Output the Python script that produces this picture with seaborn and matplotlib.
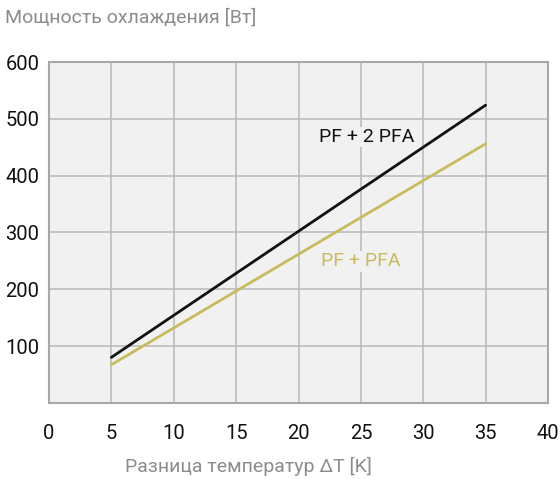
import matplotlib
matplotlib.use("Agg")
import matplotlib.pyplot as plt
import seaborn as sns
import pandas as pd

# data
delta_t = [5, 35]
power_pf_2pfa = [80, 524]
power_pf_pfa = [67, 456]
x_ticks = [0, 5, 10, 15, 20, 25, 30, 35, 40]
y_ticks = [100, 200, 300, 400, 500, 600]

df = pd.DataFrame({
    "dt": delta_t * 2,
    "power": power_pf_2pfa + power_pf_pfa,
    "series": ["PF + 2 PFA"] * 2 + ["PF + PFA"] * 2,
})

sns.set_theme(style="white")
plt.rcParams["font.family"] = ["Roboto", "DejaVu Sans"]

colors = {"PF + 2 PFA": "#111111", "PF + PFA": "#c8bb5b"}
grey = "#8c8c8c"

fig = plt.figure(figsize=(5.6, 4.79), dpi=100)
ax = fig.add_axes([49 / 560, 1 - 402.8 / 479, 499 / 560, 340.8 / 479])
ax.set_facecolor("#f1f1f1")

sns.lineplot(data=df, x="dt", y="power", hue="series", palette=colors,
             linewidth=2, legend=False, ax=ax)

ax.set_xlim(0, 40)
ax.set_ylim(0, 600)
ax.set_xticks(x_ticks)
ax.set_yticks(y_ticks)
ax.grid(True, color="#b8b8b8", linewidth=1.1)
ax.set_axisbelow(True)
for s in ax.spines.values():
    s.set_color("#a8a8a8")
    s.set_linewidth(1.5)
ax.tick_params(axis="both", length=0, labelsize=14.5, colors="#111111")
ax.tick_params(axis="x", pad=15.5)
ax.tick_params(axis="y", pad=7)
ax.set_xlabel("")
ax.set_ylabel("")

ax.text(25.5, 468, "PF + 2 PFA", color=colors["PF + 2 PFA"], fontsize=14,
        ha="center", va="center",
        bbox=dict(facecolor="#f1f1f1", edgecolor="none", pad=1))
ax.text(25, 249, "PF + PFA", color=colors["PF + PFA"], fontsize=14,
        ha="center", va="center",
        bbox=dict(facecolor="#f1f1f1", edgecolor="none", pad=1))

fig.text(5 / 560, 1 - 18 / 479, "Мощность охлаждения [Вт]", color=grey,
         fontsize=14, ha="left", va="center")
fig.text(248 / 560, 1 - 466 / 479, "Разница температур ΔT [K]", color=grey,
         fontsize=14, ha="center", va="center")

fig.savefig("out.png", dpi=100)
